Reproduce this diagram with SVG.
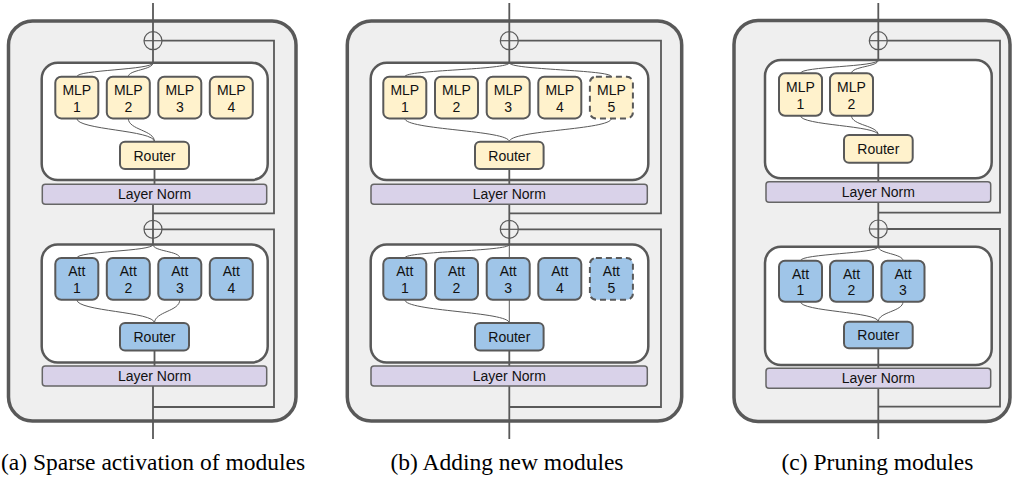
<svg xmlns="http://www.w3.org/2000/svg" width="1013" height="479" viewBox="0 0 1013 479">
<style>
.outer{fill:#efefef;stroke:#595959;stroke-width:3.5}
.inner{fill:#ffffff;stroke:#595959;stroke-width:2.5}
.mlp{fill:#fff2cc;stroke:#595959;stroke-width:2}
.att{fill:#9fc5e8;stroke:#595959;stroke-width:2}
.dash{stroke-dasharray:6 4}
.ln{fill:#d9d2e9;stroke:#666666;stroke-width:1.5}
.main{fill:none;stroke:#595959;stroke-width:1.8}
.res{fill:none;stroke:#595959;stroke-width:1.8}
.curve{fill:none;stroke:#595959;stroke-width:1}
.plus{fill:none;stroke:#595959;stroke-width:1.2}
.t{font-family:"Liberation Sans",Arial,sans-serif;font-size:14px;fill:#111;text-anchor:middle}
.cap{font-family:"Liberation Serif","Times New Roman",serif;font-size:23.5px;fill:#000;text-anchor:middle}
</style>

<!-- containers -->
<g id="panel-a-block"><rect class="outer" x="8.5" y="21" width="287.5" height="400" rx="24"/></g>
<g id="panel-b-block"><rect class="outer" x="347.3" y="21" width="334.4" height="400" rx="24"/></g>
<g id="panel-c-block"><rect class="outer" x="734" y="20.5" width="276" height="401" rx="24"/></g>

<g id="a-mlp-container"><rect class="inner" x="41.7" y="62.7" width="226" height="117.3" rx="16"/></g>
<g id="a-att-container"><rect class="inner" x="41.7" y="244.5" width="226" height="118" rx="16"/></g>
<g id="b-mlp-container"><rect class="inner" x="370.7" y="62.7" width="277.6" height="117.3" rx="16"/></g>
<g id="b-att-container"><rect class="inner" x="370.7" y="244.5" width="277.6" height="118" rx="16"/></g>
<g id="c-mlp-container"><rect class="inner" x="765" y="60" width="226.7" height="118.3" rx="16"/></g>
<g id="c-att-container"><rect class="inner" x="765" y="246.7" width="226.7" height="118.3" rx="16"/></g>

<!-- connectors -->
<g id="connectors">
  <!-- panel a -->
  <path class="main" d="M153,3 V62.7 M154.5,169 V184.3 M153,204.3 V244.5 M154.5,350.5 V366 M153,386 V439"/>
  <path class="res" d="M162,40.7 H274 V213.3 H153 M162,229.3 H274 V407 H153"/>
  <path class="curve" d="M153,62.7 C153,70 76.8,69.7 76.8,76.7 M153,62.7 C153,70 128.3,69.7 128.3,76.7"/>
  <path class="curve" d="M76.8,118.4 C76.8,130 154.5,130 154.5,141.7 M128.3,118.4 C128.3,130 154.5,130 154.5,141.7"/>
  <path class="curve" d="M153,244.5 C153,251.5 76.8,251 76.8,258 M153,244.5 C153,251.5 179.8,251 179.8,258"/>
  <path class="curve" d="M76.8,299.7 C76.8,311.5 154.5,311.5 154.5,323 M179.8,299.7 C179.8,311.5 154.5,311.5 154.5,323"/>
  <!-- panel b -->
  <path class="main" d="M509.3,3 V62.7 M509.3,169 V184.3 M509.3,204.3 V244.5 M509.3,350.5 V366 M509.3,386 V439"/>
  <path class="res" d="M518.3,40.7 H661 V213.3 H509.3 M518.3,229.3 H661 V407 H509.3"/>
  <path class="curve" d="M509.3,62.7 C509.3,70 404.8,69.7 404.8,76.7 M509.3,62.7 C509.3,70 611.4,69.7 611.4,76.7"/>
  <path class="curve" d="M404.8,118.4 C404.8,130 509.3,130 509.3,141.7 M611.4,118.4 C611.4,130 509.3,130 509.3,141.7"/>
  <path class="curve" d="M509.3,244.5 C509.3,251.5 404.8,251 404.8,258 M509.3,244.5 V258"/>
  <path class="curve" d="M404.8,299.7 C404.8,311.5 509.3,311.5 509.3,323 M509.3,299.7 V323"/>
  <!-- panel c -->
  <path class="main" d="M878.3,3 V60 M878.3,162.7 V181.7 M878.3,202.3 V246.7 M878.3,348.3 V368.3 M878.3,388.3 V439"/>
  <path class="res" d="M887.3,40.7 H1000 V212.7 H878.3 M887.3,229 H1000 V406.7 H878.3"/>
  <path class="curve" d="M878.3,60 C878.3,67 800.5,66.3 800.5,73.3 M878.3,60 C878.3,67 851.5,66.3 851.5,73.3"/>
  <path class="curve" d="M800.5,115.7 C800.5,125.5 878.3,125.5 878.3,135 M851.5,115.7 C851.5,125.5 878.3,125.5 878.3,135"/>
  <path class="curve" d="M878.3,246.7 C878.3,253.7 800.5,253.7 800.5,260.7 M878.3,246.7 C878.3,253.7 903,253.7 903,260.7"/>
  <path class="curve" d="M800.5,301.7 C800.5,311.7 878.3,311.7 878.3,321.7 M903,301.7 C903,311.7 878.3,311.7 878.3,321.7"/>
</g>

<!-- adders -->
<g id="a-add-1"><circle class="plus" cx="153" cy="40.7" r="9"/><path class="plus" d="M144,40.7 H162"/></g>
<g id="a-add-2"><circle class="plus" cx="153" cy="229.3" r="9"/><path class="plus" d="M144,229.3 H162"/></g>
<g id="b-add-1"><circle class="plus" cx="509.3" cy="40.7" r="9"/><path class="plus" d="M500.3,40.7 H518.3"/></g>
<g id="b-add-2"><circle class="plus" cx="509.3" cy="229.3" r="9"/><path class="plus" d="M500.3,229.3 H518.3"/></g>
<g id="c-add-1"><circle class="plus" cx="878.3" cy="40.7" r="9"/><path class="plus" d="M869.3,40.7 H887.3"/></g>
<g id="c-add-2"><circle class="plus" cx="878.3" cy="229" r="9"/><path class="plus" d="M869.3,229 H887.3"/></g>

<!-- panel a nodes -->
<g id="a-mlp1"><rect class="mlp" x="55.3" y="76.7" width="43" height="41.7" rx="6"/><text class="t" x="76.8" y="95">MLP</text><text class="t" x="76.8" y="111.7">1</text></g>
<g id="a-mlp2"><rect class="mlp" x="106.8" y="76.7" width="43" height="41.7" rx="6"/><text class="t" x="128.3" y="95">MLP</text><text class="t" x="128.3" y="111.7">2</text></g>
<g id="a-mlp3"><rect class="mlp" x="158.3" y="76.7" width="43" height="41.7" rx="6"/><text class="t" x="179.8" y="95">MLP</text><text class="t" x="179.8" y="111.7">3</text></g>
<g id="a-mlp4"><rect class="mlp" x="209.8" y="76.7" width="43" height="41.7" rx="6"/><text class="t" x="231.3" y="95">MLP</text><text class="t" x="231.3" y="111.7">4</text></g>
<g id="a-router1"><rect class="mlp" x="120" y="141.7" width="69" height="27.3" rx="5"/><text class="t" x="154.5" y="160.5">Router</text></g>
<g id="a-ln1"><rect class="ln" x="42.3" y="184.3" width="224.4" height="20" rx="3"/><text class="t" x="154.5" y="199.3">Layer Norm</text></g>
<g id="a-att1"><rect class="att" x="55.3" y="258" width="43" height="41.7" rx="6"/><text class="t" x="76.8" y="276.3">Att</text><text class="t" x="76.8" y="293">1</text></g>
<g id="a-att2"><rect class="att" x="106.8" y="258" width="43" height="41.7" rx="6"/><text class="t" x="128.3" y="276.3">Att</text><text class="t" x="128.3" y="293">2</text></g>
<g id="a-att3"><rect class="att" x="158.3" y="258" width="43" height="41.7" rx="6"/><text class="t" x="179.8" y="276.3">Att</text><text class="t" x="179.8" y="293">3</text></g>
<g id="a-att4"><rect class="att" x="209.8" y="258" width="43" height="41.7" rx="6"/><text class="t" x="231.3" y="276.3">Att</text><text class="t" x="231.3" y="293">4</text></g>
<g id="a-router2"><rect class="att" x="120" y="323" width="69" height="27.5" rx="5"/><text class="t" x="154.5" y="341.8">Router</text></g>
<g id="a-ln2"><rect class="ln" x="42.3" y="366" width="224.4" height="20" rx="3"/><text class="t" x="154.5" y="381">Layer Norm</text></g>

<!-- panel b nodes -->
<g id="b-mlp1"><rect class="mlp" x="383.3" y="76.7" width="43" height="41.7" rx="6"/><text class="t" x="404.8" y="95">MLP</text><text class="t" x="404.8" y="111.7">1</text></g>
<g id="b-mlp2"><rect class="mlp" x="435" y="76.7" width="43" height="41.7" rx="6"/><text class="t" x="456.5" y="95">MLP</text><text class="t" x="456.5" y="111.7">2</text></g>
<g id="b-mlp3"><rect class="mlp" x="486.7" y="76.7" width="43" height="41.7" rx="6"/><text class="t" x="508.2" y="95">MLP</text><text class="t" x="508.2" y="111.7">3</text></g>
<g id="b-mlp4"><rect class="mlp" x="538.3" y="76.7" width="43" height="41.7" rx="6"/><text class="t" x="559.8" y="95">MLP</text><text class="t" x="559.8" y="111.7">4</text></g>
<g id="b-mlp5"><rect class="mlp dash" x="589.9" y="76.7" width="43" height="41.7" rx="6"/><text class="t" x="611.4" y="95">MLP</text><text class="t" x="611.4" y="111.7">5</text></g>
<g id="b-router1"><rect class="mlp" x="475" y="141.7" width="68.6" height="27.3" rx="5"/><text class="t" x="509.3" y="160.5">Router</text></g>
<g id="b-ln1"><rect class="ln" x="371" y="184.3" width="276.3" height="20" rx="3"/><text class="t" x="509.3" y="199.3">Layer Norm</text></g>
<g id="b-att1"><rect class="att" x="383.3" y="258" width="43" height="41.7" rx="6"/><text class="t" x="404.8" y="276.3">Att</text><text class="t" x="404.8" y="293">1</text></g>
<g id="b-att2"><rect class="att" x="435" y="258" width="43" height="41.7" rx="6"/><text class="t" x="456.5" y="276.3">Att</text><text class="t" x="456.5" y="293">2</text></g>
<g id="b-att3"><rect class="att" x="486.7" y="258" width="43" height="41.7" rx="6"/><text class="t" x="508.2" y="276.3">Att</text><text class="t" x="508.2" y="293">3</text></g>
<g id="b-att4"><rect class="att" x="538.3" y="258" width="43" height="41.7" rx="6"/><text class="t" x="559.8" y="276.3">Att</text><text class="t" x="559.8" y="293">4</text></g>
<g id="b-att5"><rect class="att dash" x="589.9" y="258" width="43" height="41.7" rx="6"/><text class="t" x="611.4" y="276.3">Att</text><text class="t" x="611.4" y="293">5</text></g>
<g id="b-router2"><rect class="att" x="475" y="323" width="68.6" height="27.5" rx="5"/><text class="t" x="509.3" y="341.8">Router</text></g>
<g id="b-ln2"><rect class="ln" x="371" y="366" width="276.3" height="20" rx="3"/><text class="t" x="509.3" y="381">Layer Norm</text></g>

<!-- panel c nodes -->
<g id="c-mlp1"><rect class="mlp" x="779" y="73.3" width="43" height="42.4" rx="6"/><text class="t" x="800.5" y="92">MLP</text><text class="t" x="800.5" y="108.7">1</text></g>
<g id="c-mlp2"><rect class="mlp" x="830" y="73.3" width="43" height="42.4" rx="6"/><text class="t" x="851.5" y="92">MLP</text><text class="t" x="851.5" y="108.7">2</text></g>
<g id="c-router1"><rect class="mlp" x="844" y="135" width="68.7" height="27.7" rx="5"/><text class="t" x="878.3" y="154">Router</text></g>
<g id="c-ln1"><rect class="ln" x="766" y="181.7" width="224.7" height="20.6" rx="3"/><text class="t" x="878.3" y="197">Layer Norm</text></g>
<g id="c-att1"><rect class="att" x="779" y="260.7" width="43" height="41" rx="6"/><text class="t" x="800.5" y="278.7">Att</text><text class="t" x="800.5" y="295.3">1</text></g>
<g id="c-att2"><rect class="att" x="830" y="260.7" width="43" height="41" rx="6"/><text class="t" x="851.5" y="278.7">Att</text><text class="t" x="851.5" y="295.3">2</text></g>
<g id="c-att3"><rect class="att" x="881.5" y="260.7" width="43" height="41" rx="6"/><text class="t" x="903" y="278.7">Att</text><text class="t" x="903" y="295.3">3</text></g>
<g id="c-router2"><rect class="att" x="844" y="321.7" width="68.7" height="26.6" rx="5"/><text class="t" x="878.3" y="340">Router</text></g>
<g id="c-ln2"><rect class="ln" x="766" y="368.3" width="224.7" height="20" rx="3"/><text class="t" x="878.3" y="383.3">Layer Norm</text></g>

<!-- captions -->
<text class="cap" x="153" y="470">(a) Sparse activation of modules</text>
<text class="cap" x="507" y="470">(b) Adding new modules</text>
<text class="cap" x="877.5" y="470">(c) Pruning modules</text>
</svg>
